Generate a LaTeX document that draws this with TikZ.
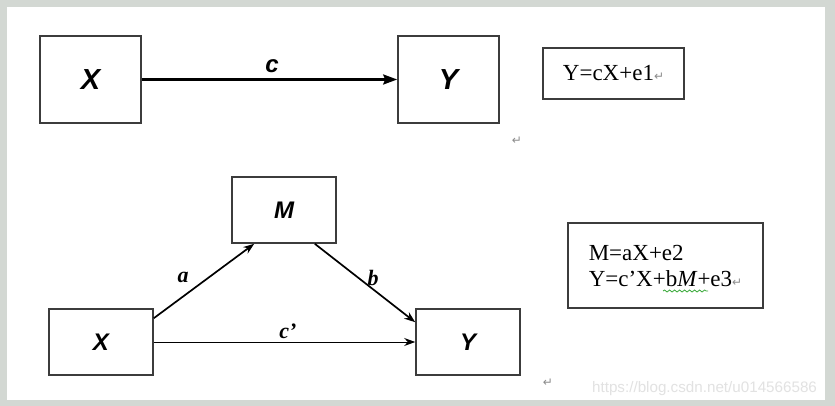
\documentclass[tikz,border=0pt]{standalone}
\usepackage{fontspec}
\usepackage{tikz}
\usetikzlibrary{arrows.meta,decorations.pathmorphing}
\setmainfont{Liberation Serif}
\newfontfamily\labelfont{Liberation Sans}
\newfontfamily\markfont{DejaVu Sans}
\definecolor{framegray}{RGB}{211, 216, 211}
\definecolor{boxgray}{RGB}{60, 60, 60}
\definecolor{markgray}{RGB}{140, 140, 140}
\definecolor{wmgray}{RGB}{226, 226, 226}
\definecolor{spellgreen}{RGB}{60, 170, 60}
\newcommand{\pmark}{{\markfont\color{markgray}\fontsize{6pt}{6pt}\selectfont ↵}}

\begin{document}
\begin{tikzpicture}[x=0.5pt, y=-0.5pt, >=Stealth,
    varbox/.style={draw=boxgray, line width=0.8pt, inner sep=0pt,
      minimum width=52pt, minimum height=33pt,
      font=\labelfont\bfseries\itshape\fontsize{12}{12}\selectfont},
    eqbox/.style={draw=boxgray, line width=0.7pt, inner sep=0pt,
      font=\fontsize{11.5}{13}\selectfont},
    coeflbl/.style={font=\bfseries\itshape\fontsize{11}{11}\selectfont}]
    % Frame
    \fill[framegray] (0,0) rectangle (835,406);
    \fill[white] (7,7) rectangle (825,400);
    
    % Total effect: X -> Y
    \node[varbox, minimum width=50.5pt, minimum height=43.5pt,
      font=\labelfont\bfseries\itshape\fontsize{14.5}{14.5}\selectfont] (X1) at (90.5,79.5) {X};
    \node[varbox, minimum width=50.5pt, minimum height=43.5pt,
      font=\labelfont\bfseries\itshape\fontsize{14.5}{14.5}\selectfont] (Y1) at (448.5,79.5) {Y};
    \draw[->, line width=1.2pt, >={Stealth[length=7pt, width=5pt, inset=1pt]}] (X1) -- (Y1);
    \node[font=\labelfont\bfseries\itshape\fontsize{12}{12}\selectfont] (lblC) at (272,66) {c};
    \node[eqbox, minimum width=70.5pt, minimum height=25.5pt] (eq1) at (613.5,73.5) {Y=cX+e1\pmark};
    \node (pm1) at (517,141) {\pmark};
    
    % Mediation: X -> M -> Y
    \node[varbox] (M) at (284,210) {M};
    \node[varbox] (X2) at (101,342) {X};
    \node[varbox] (Y2) at (468,342) {Y};
    \draw[->, line width=0.85pt, >={Stealth[length=5.5pt, width=4pt]}]
      ([yshift=-5pt]X2.north east) -- ([xshift=11.5pt]M.south west);
    \draw[->, line width=0.85pt, >={Stealth[length=5.5pt, width=4pt]}]
      ([xshift=-11pt]M.south east) -- ([yshift=-7pt]Y2.north west);
    \draw[->, line width=0.5pt, >={Stealth[length=5.5pt, width=4pt]}] (X2) -- (Y2);
    \node[coeflbl] (lblA) at (183,277) {a};
    \node[coeflbl] (lblB) at (373,278) {b};
    \node[coeflbl] (lblCp) at (288,331) {c’};
    \node[eqbox, minimum width=97.5pt, minimum height=42.5pt, align=left] (eq2) at (665.5,265.5)
      {M=aX+e2\\Y=c’X+b\textit{M}+e3\pmark};
    % spell-check wave under bM
    \draw[spellgreen, line width=0.4pt, decorate,
      decoration={snake, amplitude=0.5pt, segment length=2.5pt}] (663,291) -- (708,291);
    \node (pm2) at (548,383) {\pmark};
    
    % Watermark
    \node[anchor=base east, text=wmgray, font=\labelfont\fontsize{7.6}{7.6}\selectfont] (wmark)
      at (824,392) {https://blog.csdn.net/u014566586};
\end{tikzpicture}
\end{document}
